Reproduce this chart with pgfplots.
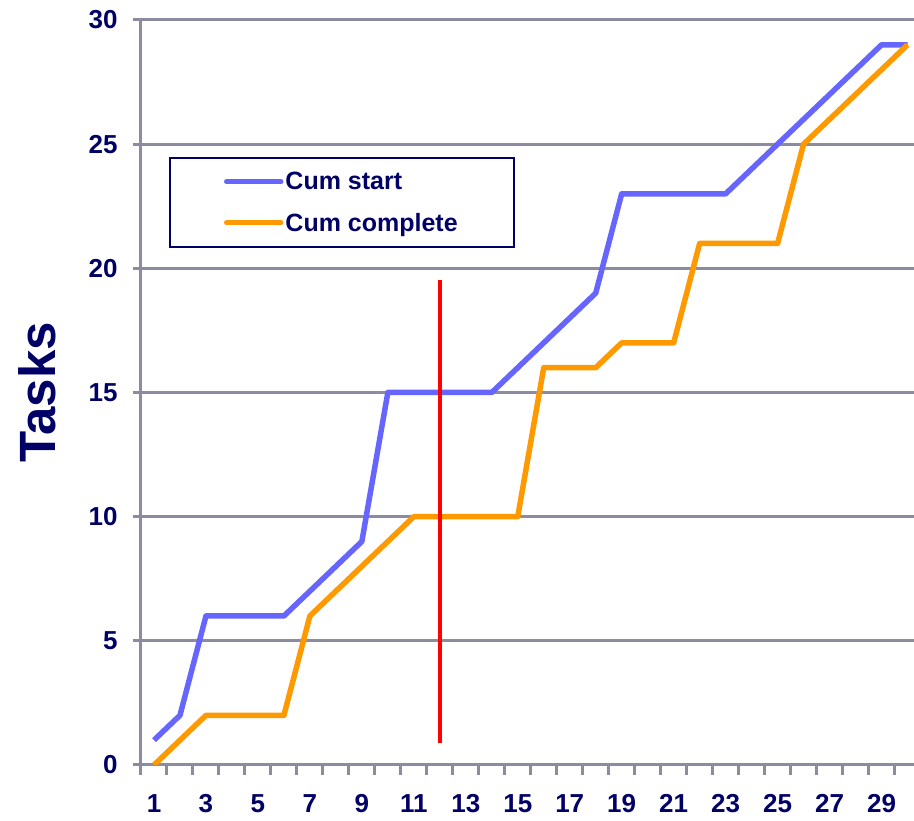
\documentclass[border=0pt]{standalone}
\usepackage{pgfplots}
\pgfplotsset{compat=1.18}
\usepackage{fontspec}
\setmainfont{Liberation Sans}
\definecolor{navy}{RGB}{0,0,102}
\definecolor{gridgray}{RGB}{140,140,160}
\definecolor{cblue}{RGB}{102,102,255}
\definecolor{corange}{RGB}{255,153,0}
\begin{document}
\begin{tikzpicture}
\useasboundingbox (-141pt,-56pt) rectangle (773pt,765pt);
\begin{axis}[
  scale only axis, width=773pt, height=745pt,
  xmin=0.5, xmax=30.25, ymin=0, ymax=30,
  axis x line=bottom, axis y line=left,
  axis line style={-, gridgray, line width=3pt},
  ytick={0,5,...,30},
  xtick={1,3,...,29},
  major x tick style={draw=none},
  minor xtick={0.5,1.5,...,29.5},
  major tick length=8pt, minor tick length=10pt,
  tick align=outside,
  tick style={gridgray, line width=3pt},
  minor tick style={gridgray, line width=3pt},
  ymajorgrids, grid style={gridgray, line width=3pt},
  ticklabel style={font=\fontsize{26}{30}\selectfont\bfseries, text=navy, /pgf/number format/assume math mode=true},
  yticklabel style={xshift=-12pt},
  xticklabel style={yshift=-18pt},
  ylabel={Tasks},
  ylabel style={at={(axis description cs:-0.1345,0.5)}, anchor=center, font=\fontsize{51}{60}\selectfont\bfseries, text=navy},
  legend style={at={(axis description cs:0.0362,0.8165)}, anchor=north west,
    draw=navy, line width=2pt, fill=white,
    inner xsep=54pt, inner ysep=3.5pt, row sep=0pt,
    font=\fontsize{25}{30}\selectfont\bfseries, text=navy,
    nodes={inner xsep=2pt, inner ysep=0pt, minimum height=41pt}},
  legend cell align=left,
  legend image code/.code={\draw[#1, line cap=round] (0pt,0pt) -- (54pt,0pt);},
]
\addplot[cblue, line width=5.5pt, line join=round] coordinates {
(1,1) (2,2) (3,6) (4,6) (5,6) (6,6) (7,7) (8,8) (9,9) (10,15)
(11,15) (12,15) (13,15) (14,15) (15,16) (16,17) (17,18) (18,19) (19,23) (20,23)
(21,23) (22,23) (23,23) (24,24) (25,25) (26,26) (27,27) (28,28) (29,29) (30,29)};
\addlegendentry{Cum start}
\addplot[corange, line width=5.5pt, line join=round] coordinates {
(1,0) (2,1) (3,2) (4,2) (5,2) (6,2) (7,6) (8,7) (9,8) (10,9)
(11,10) (12,10) (13,10) (14,10) (15,10) (16,16) (17,16) (18,16) (19,17) (20,17)
(21,17) (22,21) (23,21) (24,21) (25,21) (26,25) (27,26) (28,27) (29,28) (30,29)};
\addlegendentry{Cum complete}
\addplot[red, line width=4.5pt, forget plot] coordinates {(12,0.87) (12,19.53)};
\end{axis}
\end{tikzpicture}
\end{document}
